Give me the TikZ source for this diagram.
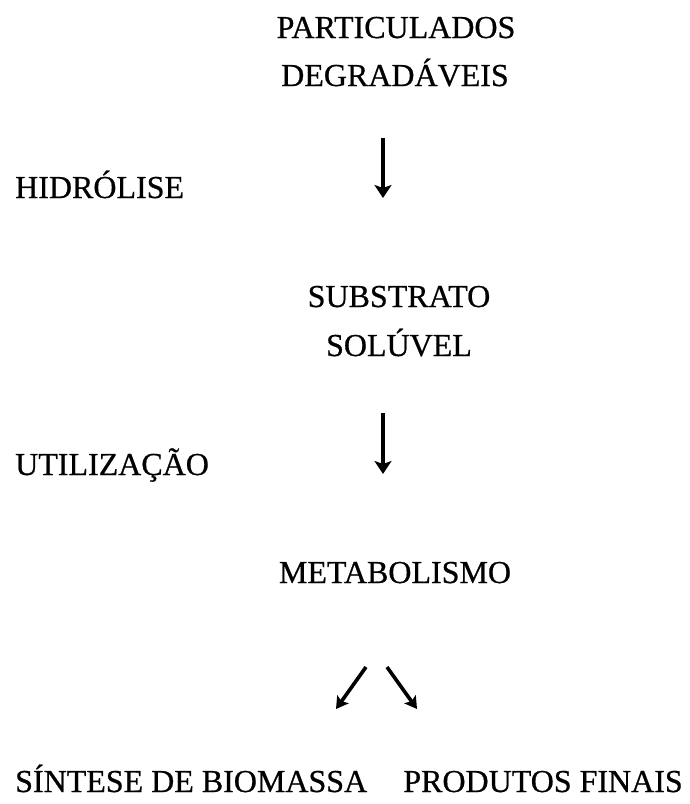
\documentclass[tikz,border=0pt]{standalone}
\usepackage{fontspec}
\setmainfont{Liberation Serif}[FakeBold=0.6]
\usetikzlibrary{arrows.meta}
\begin{document}
\begin{tikzpicture}[x=1pt,y=-1pt,
  lbl/.style={inner sep=0pt,font=\fontsize{32}{38}\selectfont},
  flow/.style={line width=3.6pt,-{Stealth[length=13pt,width=17pt,inset=3pt]}},
  branch/.style={line width=3.6pt,-{Stealth[length=12pt,width=14pt,inset=2.5pt]}}]
\useasboundingbox (0,0) rectangle (690,804);
% stages of the process
\node[lbl,anchor=base] (part) at (396,38) {PARTICULADOS};
\node[lbl,anchor=base] (degr) at (395,86) {DEGRADÁVEIS};
\node[lbl,anchor=base] (subs) at (399,307) {SUBSTRATO};
\node[lbl,anchor=base] (solu) at (399,356) {SOLÚVEL};
\node[lbl,anchor=base] (meta) at (395,583) {METABOLISMO};
\node[lbl,anchor=base west] (sint) at (15,792) {SÍNTESE DE BIOMASSA};
\node[lbl,anchor=base east] (prod) at (683,792) {PRODUTOS FINAIS};
% step names
\node[lbl,anchor=base west] (hidr) at (15,198) {HIDRÓLISE};
\node[lbl,anchor=base west] (util) at (15,475) {UTILIZAÇÃO};
% arrow end points
\coordinate (a1s) at (383,138);
\coordinate (a1e) at (383,198);
\coordinate (a2s) at (383,413);
\coordinate (a2e) at (383,474);
\coordinate (l1s) at (366,667);
\coordinate (l1e) at (336,709);
\coordinate (r1s) at (387,667);
\coordinate (r1e) at (417,709);
\draw[flow] (a1s) -- (a1e);
\draw[flow] (a2s) -- (a2e);
\draw[branch] (l1s) -- (l1e);
\draw[branch] (r1s) -- (r1e);
\end{tikzpicture}
\end{document}
